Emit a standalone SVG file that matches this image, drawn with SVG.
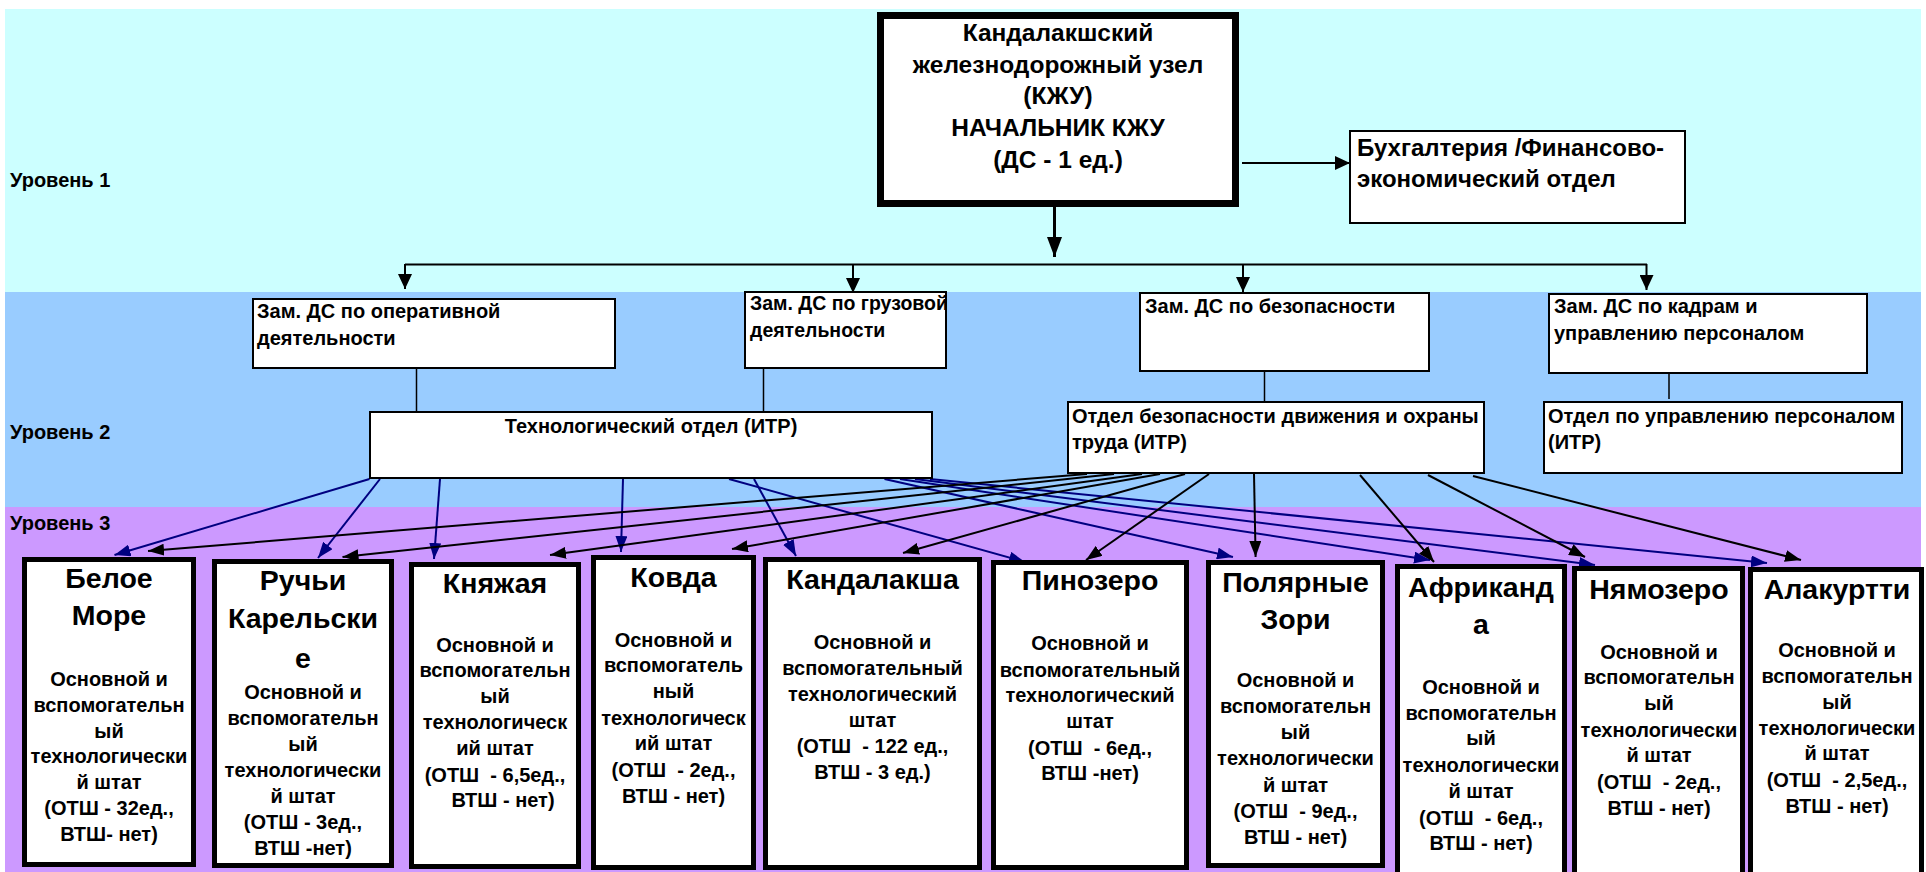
<svg xmlns="http://www.w3.org/2000/svg" width="1926" height="872" viewBox="0 0 1926 872">
<style>
.t{font-family:"Liberation Sans",Arial,sans-serif;font-weight:bold;fill:#000}
.lvl{font-size:20px}
.mn{font-size:24.5px;text-anchor:middle}
.bk{font-size:24px}
.l2{font-size:20px}
.st{font-size:28.5px;text-anchor:middle}
.sb{font-size:20px;text-anchor:middle;white-space:pre}
.box{fill:#fff;stroke:#000;stroke-width:2}
.sbox{fill:#fff;stroke:#000;stroke-width:5}
.ln{stroke:#000;stroke-width:2;fill:none}
.lt{stroke:#000;stroke-width:1.5;fill:none}
.cb{stroke:#000080;stroke-width:2;fill:none;marker-end:url(#ab)}
.ck{stroke:#000;stroke-width:2;fill:none;marker-end:url(#ak)}
.ct{stroke:#000;stroke-width:2;fill:none;marker-end:url(#at)}
.cm{stroke:#000;stroke-width:3;fill:none;marker-end:url(#am)}
</style>
<defs>
<marker id="ab" markerWidth="16" markerHeight="12" refX="16" refY="6" orient="auto" markerUnits="userSpaceOnUse"><path d="M0,0 L16,6 L0,12 z" fill="#000080"/></marker>
<marker id="ak" markerWidth="16" markerHeight="12" refX="16" refY="6" orient="auto" markerUnits="userSpaceOnUse"><path d="M0,0 L16,6 L0,12 z" fill="#000"/></marker>
<marker id="at" markerWidth="15" markerHeight="14" refX="15" refY="7" orient="auto" markerUnits="userSpaceOnUse"><path d="M0,0 L15,7 L0,14 z" fill="#000"/></marker>
<marker id="am" markerWidth="20" markerHeight="15" refX="20" refY="7.5" orient="auto" markerUnits="userSpaceOnUse"><path d="M0,0 L20,7.5 L0,15 z" fill="#000"/></marker>
</defs>

<g id="bands">
<rect x="5" y="9" width="1916" height="284" fill="#CCFFFF"/>
<rect x="5" y="292" width="1916" height="215" fill="#99CCFF"/>
<rect x="5" y="507" width="1916" height="365" fill="#CC99FF"/>
<text class="t lvl" x="10" y="187">Уровень 1</text>
<text class="t lvl" x="10" y="439">Уровень 2</text>
<text class="t lvl" x="10" y="530">Уровень 3</text>
</g>

<g id="connectors">
<line class="cm" x1="1054.5" y1="207" x2="1054.5" y2="257"/>
<line class="ln" x1="405" y1="264.5" x2="1647" y2="264.5"/>
<line class="ct" x1="405" y1="264" x2="405" y2="289"/>
<line class="ct" x1="853" y1="264" x2="853" y2="293"/>
<line class="ct" x1="1243" y1="264" x2="1243" y2="292"/>
<line class="ct" x1="1646.5" y1="264" x2="1646.5" y2="290"/>
<line class="ct" x1="1242" y1="163" x2="1350" y2="163"/>
<line class="lt" x1="416.5" y1="368" x2="416.5" y2="412"/>
<line class="lt" x1="763.5" y1="368" x2="763.5" y2="412"/>
<line class="lt" x1="1264.5" y1="371" x2="1264.5" y2="402"/>
<line class="lt" x1="1669" y1="373" x2="1669" y2="399"/>
<line class="cb" x1="369.5" y1="479" x2="114.5" y2="555"/>
<line class="cb" x1="380" y1="479" x2="318" y2="558"/>
<line class="cb" x1="440" y1="479" x2="434" y2="559"/>
<line class="cb" x1="623" y1="479" x2="621" y2="552"/>
<line class="cb" x1="754" y1="479" x2="796" y2="556"/>
<line class="cb" x1="729" y1="479" x2="1025" y2="562"/>
<line class="cb" x1="884.5" y1="479" x2="1233" y2="557"/>
<line class="cb" x1="900" y1="479" x2="1430" y2="560"/>
<line class="cb" x1="915" y1="479" x2="1595" y2="565"/>
<line class="cb" x1="930" y1="479" x2="1767" y2="563"/>
<line class="ck" x1="1087" y1="474" x2="148" y2="551"/>
<line class="ck" x1="1114" y1="474" x2="342.5" y2="557"/>
<line class="ck" x1="1142" y1="474" x2="550" y2="555"/>
<line class="ck" x1="1160" y1="474" x2="732" y2="549"/>
<line class="ck" x1="1185" y1="474" x2="903" y2="553"/>
<line class="ck" x1="1209" y1="474" x2="1086" y2="560"/>
<line class="ck" x1="1254" y1="474" x2="1255.6" y2="557"/>
<line class="ck" x1="1360" y1="475" x2="1434" y2="562"/>
<line class="ck" x1="1428" y1="475" x2="1585" y2="557"/>
<line class="ck" x1="1473" y1="476" x2="1801" y2="560"/>
</g>

<g id="n-main">
<rect x="880.5" y="15.5" width="355" height="188" fill="#fff" stroke="#000" stroke-width="7"/>
<text class="t mn"><tspan x="1058" y="41">Кандалакшский</tspan><tspan x="1058" y="72.7">железнодорожный узел</tspan><tspan x="1058" y="104.4">(КЖУ)</tspan><tspan x="1058" y="136.1">НАЧАЛЬНИК КЖУ</tspan><tspan x="1058" y="167.8">(ДС - 1 ед.)</tspan></text>
</g>
<g id="n-buh">
<rect class="box" x="1350" y="131" width="335" height="92"/>
<text class="t bk"><tspan x="1357" y="156">Бухгалтерия /Финансово-</tspan><tspan x="1357" y="187">экономический отдел</tspan></text>
</g>
<g id="n-zam-oper">
<rect class="box" x="253" y="299" width="362" height="69"/>
<text class="t l2"><tspan x="257" y="318">Зам. ДС по оперативной</tspan><tspan x="257" y="345">деятельности</tspan></text>
</g>
<g id="n-zam-gruz">
<rect class="box" x="745" y="292" width="201" height="76"/>
<text class="t l2" style="font-size:19.5px"><tspan x="750" y="310">Зам. ДС по грузовой</tspan><tspan x="750" y="337">деятельности</tspan></text>
</g>
<g id="n-zam-bez">
<rect class="box" x="1140" y="293" width="289" height="78"/>
<text class="t l2" x="1145" y="313">Зам. ДС по безопасности</text>
</g>
<g id="n-zam-kadr">
<rect class="box" x="1549" y="294" width="318" height="79"/>
<text class="t l2"><tspan x="1554" y="313">Зам. ДС по кадрам и</tspan><tspan x="1554" y="340">управлению персоналом</tspan></text>
</g>
<g id="n-tech">
<rect class="box" x="370" y="412" width="562" height="66"/>
<text class="t l2" x="651" y="433" text-anchor="middle">Технологический отдел (ИТР)</text>
</g>
<g id="n-safety">
<rect class="box" x="1068" y="402" width="416" height="71"/>
<text class="t l2"><tspan x="1072" y="423">Отдел безопасности движения и охраны</tspan><tspan x="1072" y="449">труда (ИТР)</tspan></text>
</g>
<g id="n-pers">
<rect class="box" x="1544" y="402" width="358" height="71"/>
<text class="t l2"><tspan x="1548" y="423">Отдел по управлению персоналом</tspan><tspan x="1548" y="449">(ИТР)</tspan></text>
</g>

<g id="s-beloe">
<rect class="sbox" x="24.5" y="559.5" width="169" height="305"/>
<text class="t st"><tspan x="109" y="588">Белое</tspan><tspan x="109" y="625">Море</tspan></text>
<text class="t sb" xml:space="preserve"><tspan x="109" y="686">Основной и</tspan><tspan x="109" y="711.8">вспомогательн</tspan><tspan x="109" y="737.6">ый</tspan><tspan x="109" y="763.4">технологически</tspan><tspan x="109" y="789.2">й штат</tspan><tspan x="109" y="815">(ОТШ - 32ед.,</tspan><tspan x="109" y="840.8">ВТШ- нет)</tspan></text>
</g>
<g id="s-ruchi">
<rect class="sbox" x="214.5" y="561.5" width="177" height="304"/>
<text class="t st"><tspan x="303" y="590">Ручьи</tspan><tspan x="303" y="628">Карельски</tspan><tspan x="303" y="668">е</tspan></text>
<text class="t sb" xml:space="preserve"><tspan x="303" y="699">Основной и</tspan><tspan x="303" y="725">вспомогательн</tspan><tspan x="303" y="751">ый</tspan><tspan x="303" y="777">технологически</tspan><tspan x="303" y="803">й штат</tspan><tspan x="303" y="829">(ОТШ - 3ед.,</tspan><tspan x="303" y="855">ВТШ -нет)</tspan></text>
</g>
<g id="s-knyazhaya">
<rect class="sbox" x="411.5" y="564.5" width="167" height="302"/>
<text class="t st" x="495" y="593">Княжая</text>
<text class="t sb" xml:space="preserve"><tspan x="495" y="652">Основной и</tspan><tspan x="495" y="677">вспомогательн</tspan><tspan x="495" y="703">ый</tspan><tspan x="495" y="729">технологическ</tspan><tspan x="495" y="755">ий штат</tspan><tspan x="495" y="781.5">(ОТШ  - 6,5ед.,</tspan><tspan x="503" y="807">ВТШ - нет)</tspan></text>
</g>
<g id="s-kovda">
<rect class="sbox" x="593.5" y="557.5" width="160" height="310"/>
<text class="t st" x="673.5" y="586.5">Ковда</text>
<text class="t sb" xml:space="preserve"><tspan x="673.5" y="646.5">Основной и</tspan><tspan x="673.5" y="672">вспомогатель</tspan><tspan x="673.5" y="698">ный</tspan><tspan x="673.5" y="724.5">технологическ</tspan><tspan x="673.5" y="750">ий штат</tspan><tspan x="673.5" y="776.5">(ОТШ  - 2ед.,</tspan><tspan x="673.5" y="803">ВТШ - нет)</tspan></text>
</g>
<g id="s-kandalaksha">
<rect class="sbox" x="765.5" y="559.5" width="214" height="308"/>
<text class="t st" x="872.5" y="588.5">Кандалакша</text>
<text class="t sb" xml:space="preserve"><tspan x="872.5" y="648.5">Основной и</tspan><tspan x="872.5" y="675">вспомогательный</tspan><tspan x="872.5" y="700.5">технологический</tspan><tspan x="872.5" y="726.5">штат</tspan><tspan x="872.5" y="753">(ОТШ  - 122 ед.,</tspan><tspan x="872.5" y="778.5">ВТШ - 3 ед.)</tspan></text>
</g>
<g id="s-pinozero">
<rect class="sbox" x="993.5" y="562.5" width="193" height="305"/>
<text class="t st" x="1090" y="590">Пинозеро</text>
<text class="t sb" xml:space="preserve"><tspan x="1090" y="650">Основной и</tspan><tspan x="1090" y="676.5">вспомогательный</tspan><tspan x="1090" y="702">технологический</tspan><tspan x="1090" y="728">штат</tspan><tspan x="1090" y="755">(ОТШ  - 6ед.,</tspan><tspan x="1090" y="780">ВТШ -нет)</tspan></text>
</g>
<g id="s-polyarnye">
<rect class="sbox" x="1208.5" y="562.5" width="174" height="303"/>
<text class="t st"><tspan x="1295.5" y="591.5">Полярные</tspan><tspan x="1295.5" y="628.5">Зори</tspan></text>
<text class="t sb" xml:space="preserve"><tspan x="1295.5" y="686.5">Основной и</tspan><tspan x="1295.5" y="713">вспомогательн</tspan><tspan x="1295.5" y="738.5">ый</tspan><tspan x="1295.5" y="765">технологически</tspan><tspan x="1295.5" y="791.5">й штат</tspan><tspan x="1295.5" y="818">(ОТШ  - 9ед.,</tspan><tspan x="1295.5" y="843.5">ВТШ - нет)</tspan></text>
</g>
<g id="s-afrikanda">
<rect class="sbox" x="1397.5" y="566.5" width="167" height="310"/>
<text class="t st"><tspan x="1481" y="596.5">Африканд</tspan><tspan x="1481" y="633.5">а</tspan></text>
<text class="t sb" xml:space="preserve"><tspan x="1481" y="693.5">Основной и</tspan><tspan x="1481" y="720">вспомогательн</tspan><tspan x="1481" y="745">ый</tspan><tspan x="1481" y="771.5">технологически</tspan><tspan x="1481" y="798">й штат</tspan><tspan x="1481" y="825">(ОТШ  - 6ед.,</tspan><tspan x="1481" y="850">ВТШ - нет)</tspan></text>
</g>
<g id="s-nyamozero">
<rect class="sbox" x="1574.5" y="568.5" width="168" height="310"/>
<text class="t st" x="1659" y="598.5">Нямозеро</text>
<text class="t sb" xml:space="preserve"><tspan x="1659" y="658.5">Основной и</tspan><tspan x="1659" y="683.5">вспомогательн</tspan><tspan x="1659" y="710">ый</tspan><tspan x="1659" y="736.5">технологически</tspan><tspan x="1659" y="761.5">й штат</tspan><tspan x="1659" y="788.5">(ОТШ  - 2ед.,</tspan><tspan x="1659" y="815">ВТШ - нет)</tspan></text>
</g>
<g id="s-alakurtti">
<rect class="sbox" x="1750.5" y="569.5" width="171" height="310"/>
<text class="t st" x="1837" y="598.5">Алакуртти</text>
<text class="t sb" xml:space="preserve"><tspan x="1837" y="656.5">Основной и</tspan><tspan x="1837" y="683">вспомогательн</tspan><tspan x="1837" y="708.5">ый</tspan><tspan x="1837" y="735">технологически</tspan><tspan x="1837" y="760">й штат</tspan><tspan x="1837" y="786.5">(ОТШ  - 2,5ед.,</tspan><tspan x="1837" y="813">ВТШ - нет)</tspan></text>
</g>
</svg>
